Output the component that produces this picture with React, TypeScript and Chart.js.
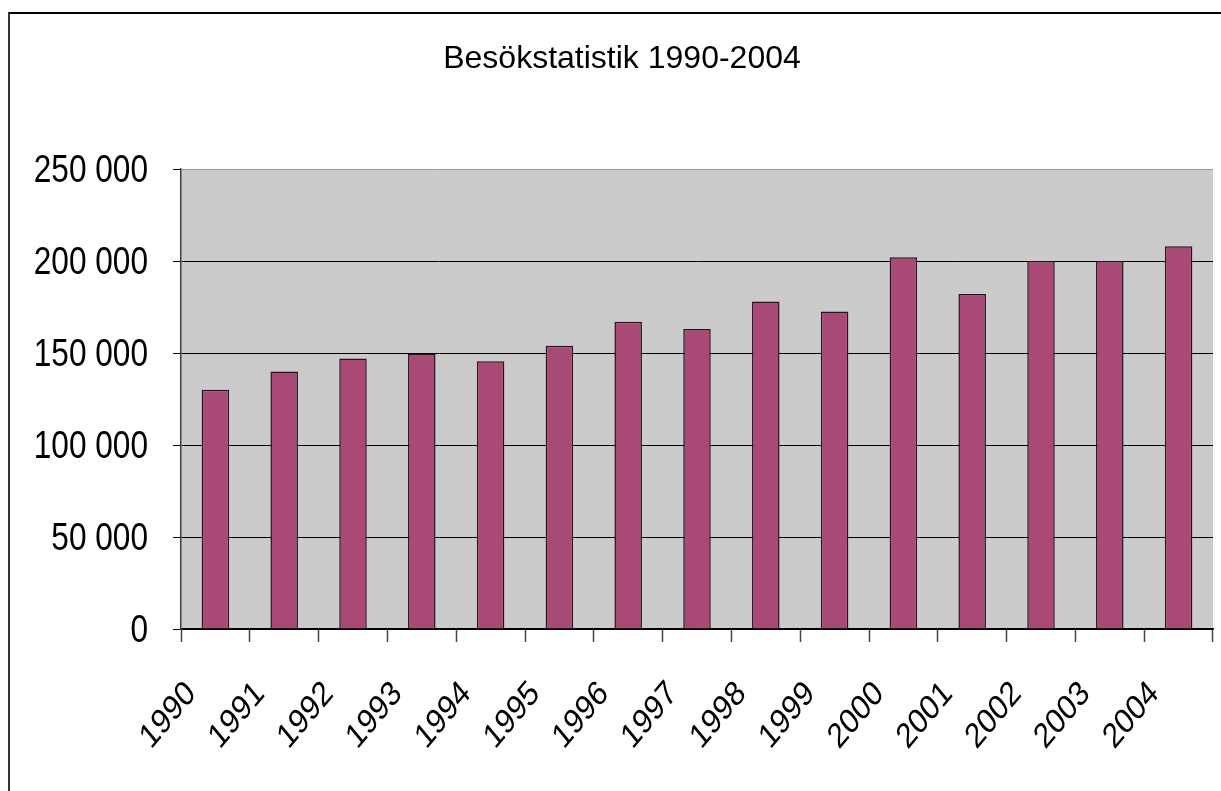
import React, { useEffect, useRef } from "react";
import { Chart, registerables } from "chart.js";

Chart.register(...registerables);

const TITLE = "Besökstatistik 1990-2004";
const years: string[] = [
  "1990", "1991", "1992", "1993", "1994", "1995", "1996", "1997",
  "1998", "1999", "2000", "2001", "2002", "2003", "2004",
];
const visitors: number[] = [
  130000, 140000, 147000, 149500, 145500, 154000, 167000, 163000,
  178000, 172500, 202000, 182000, 200000, 200000, 208000,
];
const yMin = 0;
const yMax = 250000;
const yStep = 50000;

const formatThousands = (v: number): string =>
  String(Math.round(v)).replace(/\B(?=(\d{3})+(?!\d))/g, " ");

const W = 1211;
const H = 777;
const MAIN_FONT = '"Liberation Sans", Arial, sans-serif';

export default function App() {
  const ref = useRef<HTMLCanvasElement | null>(null);

  useEffect(() => {
    const canvas = ref.current;
    if (!canvas) return;

    const plotBg = {
      id: "plotBg",
      beforeDraw(chart: any) {
        const { ctx, chartArea } = chart;
        ctx.save();
        ctx.fillStyle = "#CBCBCB";
        ctx.fillRect(chartArea.left, chartArea.top, chartArea.right - chartArea.left, chartArea.bottom - chartArea.top);
        ctx.restore();
      },
    };

    // Title and (horizontally condensed) tick labels, positioned from the chart's scales
    const textPlugin = {
      id: "texts",
      afterDraw(chart: any) {
        const { ctx } = chart;
        const xs = chart.scales.x;
        const ys = chart.scales.y;
        ctx.save();
        ctx.fillStyle = "#000";

        // title
        ctx.font = `32px ${MAIN_FONT}`;
        ctx.textAlign = "center";
        ctx.textBaseline = "alphabetic";
        ctx.fillText(TITLE, 612, 54);

        // y tick labels
        ctx.font = `39.5px ${MAIN_FONT}`;
        ctx.textAlign = "right";
        ctx.textBaseline = "alphabetic";
        const yLabelRight = xs.left - 33;
        ys.ticks.forEach((t: any, i: number) => {
          const py = ys.getPixelForTick(i);
          ctx.save();
          ctx.translate(yLabelRight, py + 12.7);
          ctx.scale(0.8, 1);
          ctx.fillText(formatThousands(t.value), 0, 0);
          ctx.restore();
        });

        // x tick labels (rotated, condensed)
        ctx.font = `35px ${MAIN_FONT}`;
        ctx.textAlign = "right";
        ctx.textBaseline = "alphabetic";
        xs.ticks.forEach((_t: any, i: number) => {
          const px = xs.getPixelForTick(i) - 18.5;
          const py = xs.top + 66;
          ctx.save();
          ctx.translate(px, py);
          ctx.scale(0.835, 1);
          ctx.rotate(-Math.PI / 4);
          ctx.fillText(String(chart.data.labels[i]), 0, 0);
          ctx.restore();
        });
        ctx.restore();
      },
    };

    const chart = new Chart(canvas, {
      type: "bar",
      data: {
        labels: years,
        datasets: [
          {
            data: visitors,
            backgroundColor: "#A94975",
            borderColor: "#2A1020",
            borderWidth: 1.5,
            barPercentage: 0.4,
            categoryPercentage: 1,
          },
        ],
      },
      options: {
        responsive: false,
        animation: false,
        devicePixelRatio: 1,
        layout: { padding: { left: 0, right: 8, top: 155, bottom: 0 } },
        plugins: {
          legend: { display: false },
          title: { display: false },
          tooltip: { enabled: false },
        },
        scales: {
          x: {
            afterFit: (s: any) => { s.height = 162; },
            grid: {
              display: true,
              drawOnChartArea: false,
              offset: true,
              tickLength: 13,
              tickColor: "#444",
              tickWidth: 1.5,
            },
            border: { display: true, color: "#000", width: 1.5 },
            ticks: { display: false, autoSkip: false },
          },
          y: {
            min: yMin,
            max: yMax,
            afterFit: (s: any) => { s.width = 171; },
            grid: {
              color: (c: any) => (c.tick && c.tick.value === yMax ? "#999" : "#000"),
              lineWidth: 1,
              tickLength: 8,
              tickColor: "#000",
            },
            border: { display: true, color: "#4A3A40", width: 1.5 },
            ticks: { display: false, stepSize: yStep },
          },
        },
      },
      plugins: [plotBg, textPlugin],
    });
    return () => chart.destroy();
  }, []);

  return (
    <div
      style={{
        position: "fixed",
        left: 8,
        top: 12,
        width: 1213,
        height: 779,
        boxSizing: "border-box",
        borderTop: "2px solid #000",
        borderLeft: "2px solid #333",
        background: "#fff",
      }}
    >
      <canvas ref={ref} width={W} height={H} style={{ display: "block", width: W, height: H }} />
    </div>
  );
}
